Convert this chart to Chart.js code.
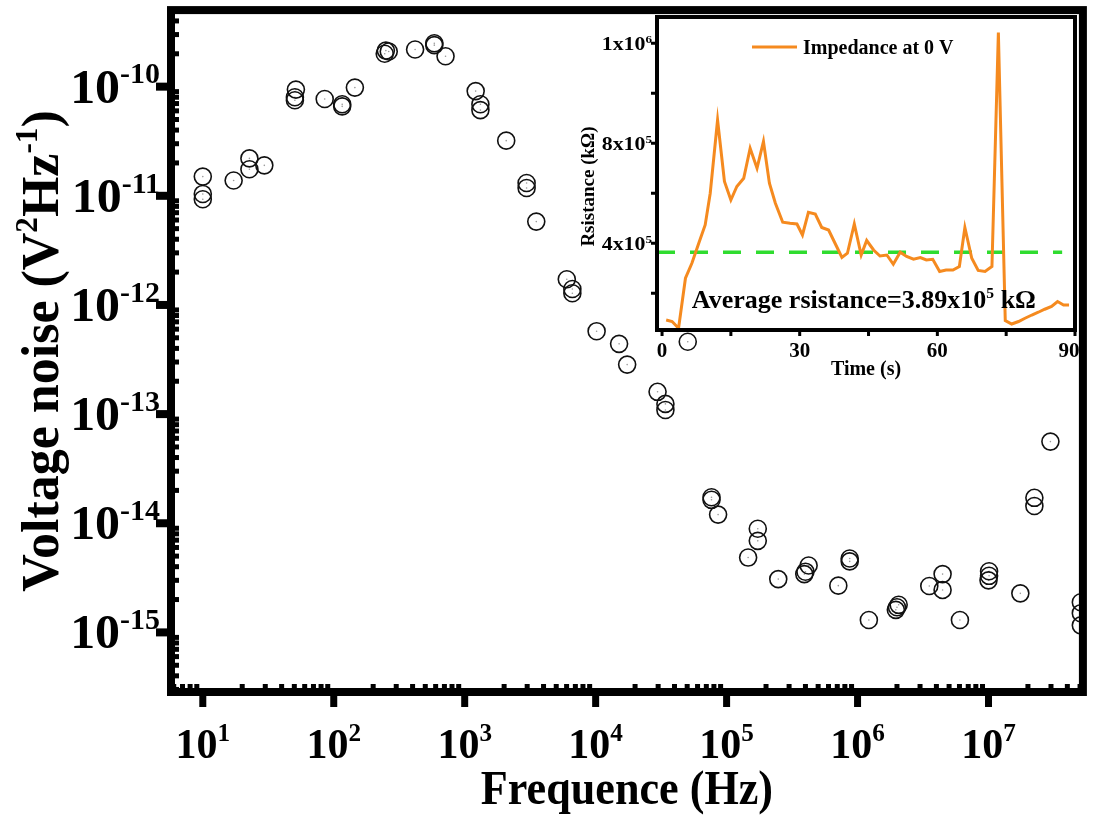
<!DOCTYPE html>
<html lang="en">

<head>
    <meta charset="UTF-8">
    <title>Voltage noise vs frequence</title>
    <script src="https://cdn.jsdelivr.net/npm/chart.js"></script>
    <style>
        html,
        body {
            margin: 0;
            padding: 0;
            overflow: hidden;
            background-color: #ffffff;
        }

        #wrap {
            position: relative;
            width: 1093px;
            height: 818px;
        }

        #main {
            position: absolute;
            left: 0;
            top: 0;
        }

        #inset {
            position: absolute;
            left: 560px;
            top: 0;
        }
    </style>
</head>

<body>
    <div id="wrap">
        <canvas id="main" width="1093" height="818"></canvas>
        <canvas id="inset" width="533" height="390"></canvas>
    </div>

    <script>
        // main plot: voltage noise spectrum
        const freq = [10, 10, 10, 17.2, 22.7, 22.7, 29.5, 51.4, 50.5, 50.5, 85.3, 116, 116, 145,
            250, 263, 245, 418, 586, 586, 714, 1213, 1318, 1318, 2075, 2970, 2970, 3520,
            6020, 6640, 6640, 10170, 15100, 17400, 29700, 34100, 34100, 50500,
            76700, 76700, 86100, 173000, 173000, 146000, 248000, 423000, 392000, 400000,
            871000, 871000, 713000, 1.22e6, 2.06e6, 1.96e6, 2.0e6, 3.53e6, 4.46e6, 4.46e6,
            6.05e6, 1.01e7, 1.0e7, 1.01e7, 1.75e7, 2.24e7, 2.24e7, 2.97e7, 5.07e7, 5.07e7, 5.07e7];
        const noise = [1.5e-11, 1.04e-11, 9.3e-12, 1.38e-11, 2.2e-11, 1.75e-11, 1.9e-11, 9.4e-11, 8.0e-11, 7.5e-11, 7.7e-11, 6.9e-11, 6.6e-11, 9.8e-11,
            2.14e-10, 2.1e-10, 2.0e-10, 2.19e-10, 2.5e-10, 2.4e-10, 1.9e-10, 9.1e-11, 6.9e-11, 6.1e-11, 3.2e-11, 1.31e-11, 1.18e-11, 5.8e-12,
            1.72e-12, 1.4e-12, 1.28e-12, 5.75e-13, 4.4e-13, 2.84e-13, 1.6e-13, 1.24e-13, 1.09e-13, 4.6e-13,
            1.73e-14, 1.64e-14, 1.2e-14, 8.9e-15, 6.9e-15, 4.85e-15, 3.08e-15, 4.1e-15, 3.42e-15, 3.6e-15,
            4.75e-15, 4.47e-15, 2.68e-15, 1.3e-15, 1.79e-15, 1.61e-15, 1.7e-15, 2.66e-15, 3.42e-15, 2.45e-15,
            1.3e-15, 3.63e-15, 3.0e-15, 3.3e-15, 2.28e-15, 1.71e-14, 1.44e-14, 5.6e-14, 1.89e-15, 1.5e-15, 1.16e-15];

        const xTickValues = [1e1, 1e2, 1e3, 1e4, 1e5, 1e6, 1e7];
        const xTickLabels = ['10^{1}', '10^{2}', '10^{3}', '10^{4}', '10^{5}', '10^{6}', '10^{7}'];
        const yTickValues = [1e-10, 1e-11, 1e-12, 1e-13, 1e-14, 1e-15];
        const yTickLabels = ['10^{-10}', '10^{-11}', '10^{-12}', '10^{-13}', '10^{-14}', '10^{-15}'];
        const xTitle = 'Frequence (Hz)';
        const yTitle = 'Voltage noise (V^{2}Hz^{-1})';

        // inset: resistance over time
        const insetTime = [0.9, 2.2, 3.6, 5.1, 6.5, 8.0, 9.4, 10.5, 12.1, 13.6,
            15.0, 16.3, 17.8, 19.2, 20.7, 22.1, 23.4, 24.7, 26.3, 27.9,
            29.4, 30.6, 31.9, 33.4, 34.8, 36.3, 37.7, 39.2, 40.4, 41.9,
            43.4, 44.6, 46.1, 47.5, 49.0, 50.4, 51.9, 53.3, 54.8, 56.3,
            57.6, 59.0, 60.5, 61.9, 63.4, 64.8, 66.0, 67.5, 68.9, 70.4,
            71.9, 73.3, 74.8, 76.2, 77.7, 79.1, 80.6, 82.0, 83.4, 84.9,
            86.2, 87.5, 88.7];
        const insetRes = [93, 87, 60, 260, 320, 400, 473, 600, 893, 647,
            573, 627, 660, 780, 700, 807, 640, 560, 484, 480,
            477, 433, 524, 517, 463, 453, 400, 343, 360, 477,
            353, 411, 373, 349, 353, 316, 364, 347, 336, 343,
            333, 336, 287, 293, 293, 307, 463, 340, 291, 287,
            307, 1243, 91, 77, 87, 100, 113, 124, 136, 147,
            167, 153, 153].map(v => v * 1000);
        const avgTime = [-1.1, 87.2];
        const avgRes = [364000, 364000];

        const insetXTickValues = [0, 30, 60, 90];
        const insetXTickLabels = ['0', '30', '60', '90'];
        const insetYTickValues = [400000, 800000, 1200000];
        const insetYTickLabels = ['4x10^{5}', '8x10^{5}', '1x10^{6}'];
        const insetLegend = 'Impedance at 0 V';
        const insetNote = 'Average rsistance=3.89x10^{5} kΩ';
        const insetXTitle = 'Time (s)';
        const insetYTitle = 'Rsistance (kΩ)';

        const SERIF = '"Liberation Serif", "Times New Roman", serif';
        const ORANGE = '#f58a1f';
        const GREEN = '#2fdc2f';

        // ---- rich text helpers (for the 10^n labels) ----
        function parseRich(s) {
            const parts = [];
            const re = /\^\{([^}]*)\}/g;
            let last = 0, m;
            while ((m = re.exec(s))) {
                if (m.index > last) parts.push([s.slice(last, m.index), false]);
                parts.push([m[1], true]);
                last = re.lastIndex;
            }
            if (last < s.length) parts.push([s.slice(last), false]);
            return parts;
        }

        function drawRich(ctx, str, x, y, fs, align, sx) {
            const parts = parseRich(str);
            const supFs = fs * 0.6;
            let w = 0;
            for (const [t, sup] of parts) {
                ctx.font = 'bold ' + (sup ? supFs : fs) + 'px ' + SERIF;
                w += ctx.measureText(t).width;
            }
            ctx.save();
            ctx.translate(x, y);
            ctx.scale(sx || 1, 1);
            ctx.textBaseline = 'alphabetic';
            ctx.textAlign = 'left';
            ctx.fillStyle = '#000';
            let cx = align === 'center' ? -w / 2 : (align === 'right' ? -w : 0);
            for (const [t, sup] of parts) {
                ctx.font = 'bold ' + (sup ? supFs : fs) + 'px ' + SERIF;
                ctx.fillText(t, cx, sup ? -fs * 0.4 : 0);
                cx += ctx.measureText(t).width;
            }
            ctx.restore();
        }

        // ---- main chart decorations ----
        const mainFrame = {
            id: 'mainFrame',
            afterDatasetsDraw(chart) {
                const ctx = chart.ctx;
                const a = chart.chartArea;
                const xs = chart.scales.x, ys = chart.scales.y;
                ctx.save();
                ctx.fillStyle = '#000';

                // minor ticks, pointing inward
                for (let e = 0; e <= 7; e++) {
                    for (let k = 2; k <= 9; k++) {
                        const v = k * Math.pow(10, e);
                        if (v < xs.min || v > xs.max) continue;
                        const px = xs.getPixelForValue(v);
                        ctx.fillRect(px - 2.5, a.bottom - 8, 5, 4);
                    }
                }
                for (let e = -16; e <= -10; e++) {
                    for (let k = 2; k <= 9; k++) {
                        const v = k * Math.pow(10, e);
                        if (v < ys.min || v > ys.max) continue;
                        const py = ys.getPixelForValue(v);
                        ctx.fillRect(a.left + 4, py - 2.5, 4, 5);
                    }
                }

                // major ticks, pointing outward
                xTickValues.forEach(v => {
                    const px = xs.getPixelForValue(v);
                    ctx.fillRect(px - 3.5, a.bottom + 4, 7, 11);
                });
                yTickValues.forEach(v => {
                    const py = ys.getPixelForValue(v);
                    ctx.fillRect(a.left - 15, py - 4, 11, 8);
                });

                // frame
                ctx.strokeStyle = '#000';
                ctx.lineWidth = 8;
                ctx.strokeRect(a.left, a.top, a.right - a.left, a.bottom - a.top);

                // tick labels
                xTickValues.forEach((v, i) => {
                    drawRich(ctx, xTickLabels[i], xs.getPixelForValue(v), 758, 42, 'center');
                });
                yTickValues.forEach((v, i) => {
                    drawRich(ctx, yTickLabels[i], 160, ys.getPixelForValue(v) + 16, 48, 'right', 1.04);
                });

                // titles
                drawRich(ctx, xTitle, (a.left + a.right) / 2, 804, 48, 'center', 0.92);
                ctx.save();
                ctx.translate(58, (a.top + a.bottom) / 2);
                ctx.rotate(-Math.PI / 2);
                drawRich(ctx, yTitle, 0, 0, 52, 'center');
                ctx.restore();

                ctx.restore();
            }
        };

        const mainPts = freq.map((f, i) => ({ x: f, y: noise[i] }));

        new Chart(document.getElementById('main'), {
            type: 'scatter',
            data: {
                datasets: [
                    {
                        data: mainPts,
                        pointRadius: 8.5,
                        pointHoverRadius: 8.5,
                        pointBorderWidth: 1.6,
                        pointBorderColor: '#111',
                        pointBackgroundColor: 'rgba(0,0,0,0)'
                    },
                    {
                        data: mainPts,
                        pointRadius: 0.8,
                        pointHoverRadius: 0.8,
                        pointBorderWidth: 0,
                        pointBackgroundColor: '#999'
                    }
                ]
            },
            options: {
                responsive: false,
                animation: false,
                layout: { padding: { left: 0, top: 6, right: 4, bottom: 0 } },
                plugins: {
                    legend: { display: false },
                    tooltip: { enabled: false }
                },
                scales: {
                    x: {
                        type: 'logarithmic',
                        bounds: 'data',
                        min: Math.pow(10, 0.7572),
                        max: Math.pow(10, 7.7208),
                        ticks: { display: false },
                        grid: { display: false },
                        border: { display: false },
                        afterFit(s) { s.height = 126; }
                    },
                    y: {
                        type: 'logarithmic',
                        bounds: 'data',
                        min: Math.pow(10, -15.546),
                        max: Math.pow(10, -9.2987),
                        ticks: { display: false },
                        grid: { display: false },
                        border: { display: false },
                        afterFit(s) { s.width = 171; }
                    }
                }
            },
            plugins: [mainFrame]
        });

        // ---- inset ----
        const insetDeco = {
            id: 'insetDeco',
            beforeDatasetsDraw(chart) {
                const ctx = chart.ctx, a = chart.chartArea;
                ctx.save();
                ctx.fillStyle = '#fff';
                ctx.fillRect(a.left, a.top, a.right - a.left, a.bottom - a.top);
                ctx.restore();
            },
            afterDatasetsDraw(chart) {
                const ctx = chart.ctx, a = chart.chartArea;
                const xs = chart.scales.x, ys = chart.scales.y;
                ctx.save();
                ctx.fillStyle = '#000';

                // ticks outward
                for (let t = 0; t <= 90; t += 15) {
                    const px = xs.getPixelForValue(t);
                    ctx.fillRect(px - 1.5, a.bottom + 2, 3, 4);
                }
                for (let v = 200000; v <= 1200000; v += 200000) {
                    const py = ys.getPixelForValue(v);
                    ctx.fillRect(a.left - 6, py - 1.5, 4, 3);
                }

                ctx.strokeStyle = '#000';
                ctx.lineWidth = 4;
                ctx.strokeRect(a.left, a.top, a.right - a.left, a.bottom - a.top);

                insetXTickValues.forEach((v, i) => {
                    const px = Math.min(xs.getPixelForValue(v), a.right - 6);
                    drawRich(ctx, insetXTickLabels[i], px, a.bottom + 27, 21, 'center');
                });
                insetYTickValues.forEach((v, i) => {
                    drawRich(ctx, insetYTickLabels[i], a.left - 5, ys.getPixelForValue(v) + 7, 19, 'right', 1.15);
                });

                drawRich(ctx, insetXTitle, (a.left + a.right) / 2, a.bottom + 45, 20, 'center');
                ctx.save();
                ctx.translate(a.left - 63, (a.top + a.bottom) / 2 + 13);
                ctx.rotate(-Math.PI / 2);
                drawRich(ctx, insetYTitle, 0, 0, 19, 'center');
                ctx.restore();

                // legend
                ctx.strokeStyle = ORANGE;
                ctx.lineWidth = 3;
                ctx.beginPath();
                ctx.moveTo(a.left + 95, a.top + 30);
                ctx.lineTo(a.left + 140, a.top + 30);
                ctx.stroke();
                drawRich(ctx, insetLegend, a.left + 146, a.top + 37, 20, 'left');

                // note
                drawRich(ctx, insetNote, xs.getPixelForValue(6.5), ys.getPixelForValue(141000), 26, 'left');
                ctx.restore();
            }
        };

        new Chart(document.getElementById('inset'), {
            type: 'scatter',
            data: {
                datasets: [
                    {
                        data: insetTime.map((t, i) => ({ x: t, y: insetRes[i] })),
                        showLine: true,
                        borderColor: ORANGE,
                        borderWidth: 3,
                        pointRadius: 0,
                        tension: 0
                    },
                    {
                        data: avgTime.map((t, i) => ({ x: t, y: avgRes[i] })),
                        showLine: true,
                        borderColor: GREEN,
                        borderWidth: 3.5,
                        borderDash: [18, 15],
                        pointRadius: 0
                    }
                ]
            },
            options: {
                responsive: false,
                animation: false,
                layout: { padding: { left: 0, top: 17, right: 18, bottom: 0 } },
                plugins: {
                    legend: { display: false },
                    tooltip: { enabled: false }
                },
                scales: {
                    x: {
                        type: 'linear',
                        bounds: 'data',
                        min: -1.1,
                        max: 90,
                        ticks: { display: false },
                        grid: { display: false },
                        border: { display: false },
                        afterFit(s) { s.height = 60; }
                    },
                    y: {
                        type: 'linear',
                        bounds: 'data',
                        min: 53000,
                        max: 1305000,
                        ticks: { display: false },
                        grid: { display: false },
                        border: { display: false },
                        afterFit(s) { s.width = 97; }
                    }
                }
            },
            plugins: [insetDeco]
        });
    </script>
</body>

</html>
